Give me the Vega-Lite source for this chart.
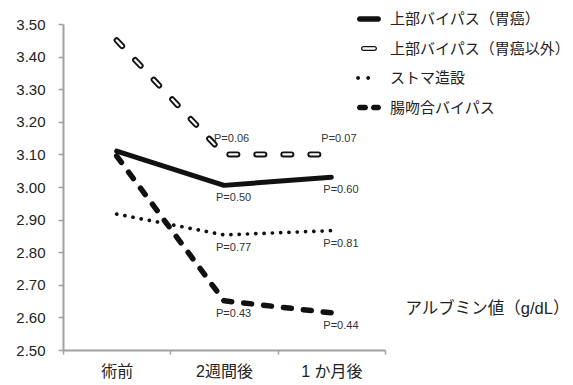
{
  "$schema": "https://vega.github.io/schema/vega-lite/v6.json",
  "autosize": {"type": "none"},
  "padding": {"left": 63, "top": 24, "right": 188, "bottom": 35},
  "width": 322,
  "height": 326,
  "background": "white",
  "config": {
    "view": {"stroke": null},
    "font": "Liberation Sans, Noto Sans CJK JP",
    "axis": {"grid": false, "domainColor": "#a0a0a0", "domainWidth": 2, "tickColor": "#a0a0a0", "tickWidth": 1.5, "labelColor": "#222", "labelFont": "Liberation Sans, Noto Sans CJK JP"}
  },
  "data": {
    "values": [
      {"series": "上部バイパス（胃癌）", "time": "術前", "value": 3.11},
      {"series": "上部バイパス（胃癌）", "time": "2週間後", "value": 3.005, "p": "P=0.50"},
      {"series": "上部バイパス（胃癌）", "time": "1 か月後", "value": 3.03, "p": "P=0.60"},
      {"series": "上部バイパス（胃癌以外）", "time": "術前", "value": 3.45},
      {"series": "上部バイパス（胃癌以外）", "time": "2週間後", "value": 3.10, "p": "P=0.06"},
      {"series": "上部バイパス（胃癌以外）", "time": "1 か月後", "value": 3.10, "p": "P=0.07"},
      {"series": "ストマ造設", "time": "術前", "value": 2.917},
      {"series": "ストマ造設", "time": "2週間後", "value": 2.853, "p": "P=0.77"},
      {"series": "ストマ造設", "time": "1 か月後", "value": 2.866, "p": "P=0.81"},
      {"series": "腸吻合バイパス", "time": "術前", "value": 3.095},
      {"series": "腸吻合バイパス", "time": "2週間後", "value": 2.651, "p": "P=0.43"},
      {"series": "腸吻合バイパス", "time": "1 か月後", "value": 2.614, "p": "P=0.44"}
    ]
  },
  "encoding": {
    "x": {
      "field": "time", "type": "nominal", "sort": ["術前", "2週間後", "1 か月後"],
      "scale": {"type": "band", "paddingInner": 0, "paddingOuter": 0},
      "axis": {"title": null, "labelAngle": 0, "labelFontSize": 16, "labelPadding": 9, "tickSize": 4, "tickBand": "extent"}
    },
    "y": {
      "field": "value", "type": "quantitative",
      "scale": {"domain": [2.5, 3.5], "zero": false, "nice": false},
      "axis": {
        "values": [2.5, 2.6, 2.7, 2.8, 2.9, 3.0, 3.1, 3.2, 3.3, 3.4, 3.5],
        "format": ".2f", "labelFontSize": 15, "tickSize": 5, "labelPadding": 13,
        "title": "アルブミン値（g/dL）", "titleAngle": 0, "titleX": 342, "titleY": 284,
        "titleAlign": "left", "titleBaseline": "middle", "titleFontSize": 16.5, "titleLimit": 220,
        "titleFontWeight": "normal", "titleColor": "#222", "titleFont": "Liberation Sans, Noto Sans CJK JP"
      }
    }
  },
  "layer": [
    {
      "transform": [{"filter": "datum.series === '上部バイパス（胃癌）'"}],
      "mark": {"type": "line", "color": "#111", "strokeWidth": 5, "strokeCap": "round", "strokeJoin": "round"},
      "encoding": {}
    },
    {
      "transform": [{"filter": "datum.series === '上部バイパス（胃癌以外）'"}],
      "mark": {"type": "line", "color": "#111", "strokeWidth": 6, "strokeCap": "round", "strokeDash": [8, 19]},
      "encoding": {}
    },
    {
      "transform": [{"filter": "datum.series === '上部バイパス（胃癌以外）'"}],
      "mark": {"type": "line", "color": "#ffffff", "strokeWidth": 2.2, "strokeCap": "round", "strokeDash": [8, 19]},
      "encoding": {}
    },
    {
      "transform": [{"filter": "datum.series === 'ストマ造設'"}],
      "mark": {"type": "line", "color": "#111", "strokeWidth": 3.7, "strokeCap": "round", "strokeDash": [0.1, 8.2]},
      "encoding": {}
    },
    {
      "transform": [{"filter": "datum.series === '腸吻合バイパス'"}],
      "mark": {"type": "line", "color": "#111", "strokeWidth": 5.5, "strokeCap": "round", "strokeDash": [8, 12]},
      "encoding": {}
    },
    {
      "transform": [{"filter": "datum.p != null && datum.series !== '上部バイパス（胃癌以外）'"}],
      "mark": {"type": "text", "align": "left", "baseline": "middle", "dx": -8, "dy": 13, "fontSize": 11, "color": "#333"},
      "encoding": {"text": {"field": "p"}}
    },
    {
      "transform": [{"filter": "datum.p != null && datum.series === '上部バイパス（胃癌以外）'"}],
      "mark": {"type": "text", "align": "left", "baseline": "middle", "dx": -10, "dy": -15, "fontSize": 11, "color": "#333"},
      "encoding": {"text": {"field": "p"}}
    },
    {
      "description": "Invisible points that carry the legend key, one symbol per line style.",
      "mark": {"type": "point", "filled": true, "color": "#111", "opacity": 0},
      "encoding": {
        "shape": {
          "field": "series", "type": "nominal",
          "scale": {
            "domain": ["上部バイパス（胃癌）", "上部バイパス（胃癌以外）", "ストマ造設", "腸吻合バイパス"],
            "range": [
              "M-0.77,-0.229H0.77A0.229,0.229 0 0 1 0.77,0.229H-0.77A0.229,0.229 0 0 1 -0.77,-0.229Z",
              "M-0.458,-0.208H0.458A0.208,0.208 0 0 1 0.458,0.208H-0.458A0.208,0.208 0 0 1 -0.458,-0.208ZM-0.458,-0.1A0.1,0.1 0 0 0 -0.458,0.1H0.458A0.1,0.1 0 0 0 0.458,-0.1Z",
              "M-1.07,0A0.16,0.16 0 1 0 -0.75,0A0.16,0.16 0 1 0 -1.07,0ZM-0.23,0A0.16,0.16 0 1 0 0.09,0A0.16,0.16 0 1 0 -0.23,0Z",
              "M-0.771,-0.229H-0.312A0.229,0.229 0 0 1 -0.312,0.229H-0.771A0.229,0.229 0 0 1 -0.771,-0.229ZM0.396,-0.229H0.771A0.229,0.229 0 0 1 0.771,0.229H0.396A0.229,0.229 0 0 1 0.396,-0.229Z"
            ]
          },
          "legend": {
            "orient": "none", "legendX": 294, "legendY": -17, "title": null,
            "symbolSize": 576, "symbolFillColor": "#111", "symbolStrokeWidth": 0, "symbolOpacity": 1,
            "labelFontSize": 15, "labelOffset": 9, "rowPadding": 9.5, "labelColor": "#222",
            "labelFont": "Liberation Sans, Noto Sans CJK JP", "labelLimit": 300
          }
        }
      }
    }
  ]
}
